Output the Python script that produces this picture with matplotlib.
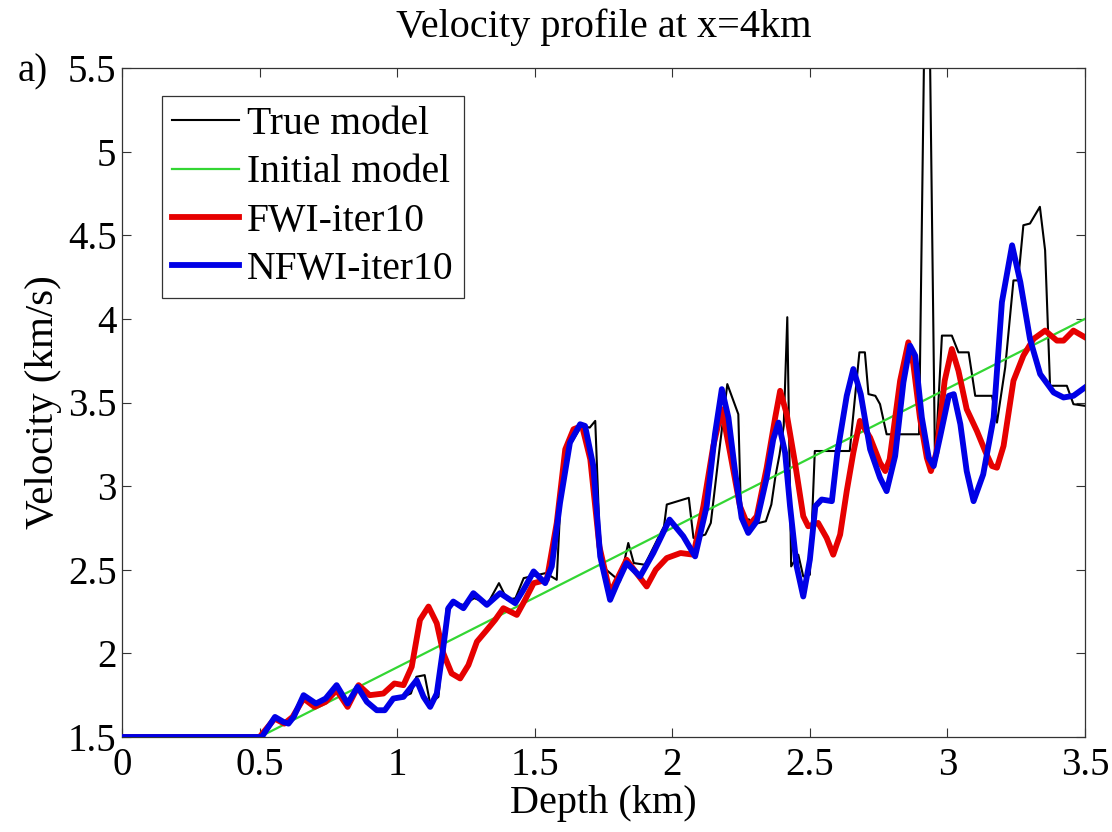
import matplotlib
matplotlib.use("Agg")
import matplotlib.pyplot as plt

plt.rcParams['font.family'] = ['Liberation Serif', 'DejaVu Serif']
plt.rcParams['mathtext.fontset'] = 'stix'

title = "Velocity profile at x=4km"
xlabel = "Depth (km)"
ylabel = "Velocity (km/s)"
panel_label = "a)"
legend_labels = ["True model", "Initial model", "FWI-iter10", "NFWI-iter10"]
xticks = [0, 0.5, 1, 1.5, 2, 2.5, 3, 3.5]
xtick_labels = ["0", "0.5", "1", "1.5", "2", "2.5", "3", "3.5"]
yticks = [1.5, 2, 2.5, 3, 3.5, 4, 4.5, 5, 5.5]
ytick_labels = ["1.5", "2", "2.5", "3", "3.5", "4", "4.5", "5", "5.5"]

# True model (black)
true_depth = [0.0, 0.5, 0.52, 0.555, 0.59, 0.62, 0.66, 0.70, 0.74, 0.78, 0.82, 0.86,
              0.89, 0.93, 0.96, 0.99, 1.02, 1.05, 1.07, 1.10, 1.12, 1.15, 1.18, 1.21,
              1.24, 1.28, 1.33, 1.37, 1.40, 1.43, 1.46, 1.54, 1.58, 1.60, 1.63, 1.67,
              1.70, 1.72, 1.74, 1.76, 1.81, 1.84, 1.86, 1.90, 1.97, 1.98, 2.06, 2.077,
              2.12, 2.14, 2.17, 2.20, 2.22, 2.24, 2.25, 2.28, 2.29, 2.34, 2.36, 2.375,
              2.39, 2.405, 2.418, 2.432, 2.458, 2.476, 2.50, 2.518, 2.645, 2.68, 2.70,
              2.713, 2.738, 2.755, 2.779, 2.897, 2.92, 2.932, 2.955, 2.98, 3.016, 3.04,
              3.077, 3.101, 3.162, 3.18, 3.21, 3.24, 3.257, 3.276, 3.30, 3.336, 3.355,
              3.373, 3.434, 3.458, 3.50]
true_vel = [1.5, 1.5, 1.55, 1.62, 1.58, 1.62, 1.75, 1.69, 1.72, 1.80, 1.70, 1.80,
            1.70, 1.65, 1.66, 1.73, 1.74, 1.76, 1.86, 1.87, 1.70, 1.74, 2.27, 2.30,
            2.29, 2.33, 2.30, 2.42, 2.32, 2.33, 2.45, 2.48, 2.44, 3.12, 3.25, 3.36,
            3.35, 3.39, 2.52, 2.50, 2.43, 2.66, 2.54, 2.53, 2.76, 2.89, 2.93, 2.69,
            2.71, 2.78, 3.20, 3.61, 3.52, 3.43, 2.81, 2.80, 2.77, 2.79, 2.89, 3.06,
            3.19, 3.36, 4.01, 2.52, 2.59, 2.46, 2.47, 3.21, 3.21, 3.80, 3.80,
            3.55, 3.54, 3.49, 3.31, 3.31, 6.2, 6.2, 3.12, 3.90, 3.90, 3.80,
            3.80, 3.54, 3.54, 3.38, 3.71, 4.23, 4.23, 4.56, 4.57, 4.67, 4.41,
            3.60, 3.60, 3.49, 3.48]

# Initial model (green)
init_depth = [0.0, 0.5, 3.5]
init_vel = [1.5, 1.5, 4.0]

# FWI-iter10 (red)
fwi_depth = [0.0, 0.5, 0.525, 0.555, 0.59, 0.62, 0.66, 0.70, 0.74, 0.78, 0.82, 0.86,
             0.90, 0.95, 0.99, 1.023, 1.053, 1.083, 1.114, 1.144, 1.168, 1.198, 1.229,
             1.259, 1.29, 1.326, 1.356, 1.386, 1.435, 1.465, 1.496, 1.544, 1.58, 1.611,
             1.641, 1.672, 1.702, 1.735, 1.774, 1.834, 1.87, 1.907, 1.94, 1.98, 2.03,
             2.077, 2.113, 2.149, 2.18, 2.21, 2.246, 2.276, 2.307, 2.343, 2.374, 2.392,
             2.416, 2.447, 2.476, 2.494, 2.53, 2.561, 2.585, 2.61, 2.634, 2.658, 2.682,
             2.719, 2.755, 2.774, 2.79, 2.828, 2.858, 2.876, 2.90, 2.925, 2.94, 2.96,
             2.99, 3.016, 3.04, 3.07, 3.107, 3.137, 3.162, 3.18, 3.204, 3.24, 3.276,
             3.313, 3.355, 3.398, 3.422, 3.458, 3.50]
fwi_vel = [1.5, 1.5, 1.55, 1.61, 1.58, 1.62, 1.73, 1.68, 1.71, 1.78, 1.68, 1.81,
           1.75, 1.76, 1.82, 1.81, 1.92, 2.20, 2.28, 2.18, 2.00, 1.88, 1.85,
           1.93, 2.07, 2.14, 2.20, 2.27, 2.23, 2.32, 2.42, 2.44, 2.78, 3.22,
           3.34, 3.36, 3.16, 2.64, 2.36, 2.56, 2.48, 2.40, 2.50, 2.57, 2.60,
           2.59, 2.88, 3.24, 3.46, 3.20, 2.88, 2.76, 2.82, 3.11, 3.41, 3.57,
           3.43, 3.13, 2.82, 2.76, 2.78, 2.69, 2.59, 2.71, 2.97, 3.20, 3.39,
           3.29, 3.14, 3.09, 3.16, 3.63, 3.86, 3.73, 3.41, 3.17, 3.09, 3.20,
           3.63, 3.82, 3.69, 3.46, 3.33, 3.21, 3.12, 3.11, 3.24, 3.63, 3.78,
           3.88, 3.93, 3.87, 3.87, 3.93, 3.89]

# NFWI-iter10 (blue)
nfwi_depth = [0.0, 0.508, 0.524, 0.556, 0.587, 0.605, 0.624, 0.66, 0.705, 0.74, 0.78,
              0.82, 0.856, 0.89, 0.926, 0.955, 0.986, 1.023, 1.071, 1.096, 1.12, 1.144,
              1.168, 1.186, 1.204, 1.241, 1.277, 1.326, 1.374, 1.429, 1.459, 1.496,
              1.538, 1.562, 1.592, 1.628, 1.665, 1.683, 1.713, 1.738, 1.774, 1.80,
              1.834, 1.883, 1.931, 1.99, 2.04, 2.083, 2.125, 2.155, 2.18, 2.204, 2.228,
              2.252, 2.276, 2.307, 2.343, 2.367, 2.386, 2.41, 2.428, 2.452, 2.476, 2.50,
              2.52, 2.543, 2.58, 2.60, 2.634, 2.658, 2.685, 2.719, 2.755, 2.779, 2.81,
              2.84, 2.864, 2.883, 2.907, 2.932, 2.95, 2.974, 3.005, 3.023, 3.047, 3.07,
              3.095, 3.13, 3.168, 3.198, 3.235, 3.265, 3.30, 3.337, 3.386, 3.422, 3.458,
              3.50]
nfwi_vel = [1.5, 1.5, 1.54, 1.62, 1.59, 1.58, 1.62, 1.75, 1.70, 1.73, 1.81,
            1.70, 1.80, 1.71, 1.66, 1.66, 1.73, 1.74, 1.84, 1.74, 1.68, 1.76,
            2.04, 2.27, 2.31, 2.27, 2.36, 2.29, 2.36, 2.30, 2.38, 2.49,
            2.42, 2.52, 2.90, 3.26, 3.37, 3.36, 3.12, 2.58, 2.32, 2.42,
            2.54, 2.46, 2.60, 2.80, 2.70, 2.58, 2.88, 3.31, 3.58, 3.41, 3.09,
            2.81, 2.72, 2.79, 3.05, 3.28, 3.38, 3.20, 2.88, 2.52, 2.34, 2.56,
            2.88, 2.92, 2.91, 3.20, 3.54, 3.70, 3.55, 3.22, 3.05, 2.97, 3.18,
            3.62, 3.84, 3.78, 3.41, 3.17, 3.12, 3.30, 3.54, 3.55, 3.37, 3.09,
            2.91, 3.07, 3.41, 4.10, 4.44, 4.22, 3.88, 3.67, 3.56, 3.53, 3.54,
            3.59]

W, H = 1112, 832
fig = plt.figure(figsize=(W / 100, H / 100), dpi=100)
ax = fig.add_axes([122 / W, 1 - 737 / H, (1085 - 122) / W, (737 - 68) / H])

ax.plot(true_depth, true_vel, color='black', lw=1.5, label=legend_labels[0], zorder=2)
ax.plot(init_depth, init_vel, color='#33d633', lw=1.6, label=legend_labels[1], zorder=3)
ax.plot(fwi_depth, fwi_vel, color='#e60000', lw=4.2, label=legend_labels[2], zorder=4,
        solid_joinstyle='round')
ax.plot(nfwi_depth, nfwi_vel, color='#0000e6', lw=4.2, label=legend_labels[3], zorder=5,
        solid_joinstyle='round')

ax.set_xlim(0, 3.5)
ax.set_ylim(1.5, 5.5)
ax.set_xticks(xticks)
ax.set_xticklabels(xtick_labels)
ax.set_yticks(yticks)
ax.set_yticklabels(ytick_labels)
ax.tick_params(direction='in', top=True, right=True, length=6.5, width=0.8,
               color='#333333', labelsize=28, pad=4)
ax.tick_params(axis='x', pad=7)
for s in ax.spines.values():
    s.set_linewidth(0.9)
    s.set_color('#333333')

ax.set_title(title, fontsize=29, pad=22)
ax.set_xlabel(xlabel, fontsize=29)
ax.xaxis.set_label_coords(0.5, -0.072)
ax.set_ylabel(ylabel, fontsize=29.5, labelpad=4)
fig.text(18 / W, 1 - 72 / H, panel_label, fontsize=28, va='center', ha='left')

leg = ax.legend(loc='upper left', bbox_to_anchor=(162 / W, 1 - 96 / H),
                bbox_transform=fig.transFigure, borderaxespad=0, fontsize=28.5,
                frameon=True, fancybox=False, framealpha=1, edgecolor='#333333',
                handlelength=1.7, handletextpad=0.2, borderpad=0.25, labelspacing=0.29)
leg.get_frame().set_linewidth(0.9)

fig.savefig('out.png', dpi=100)
